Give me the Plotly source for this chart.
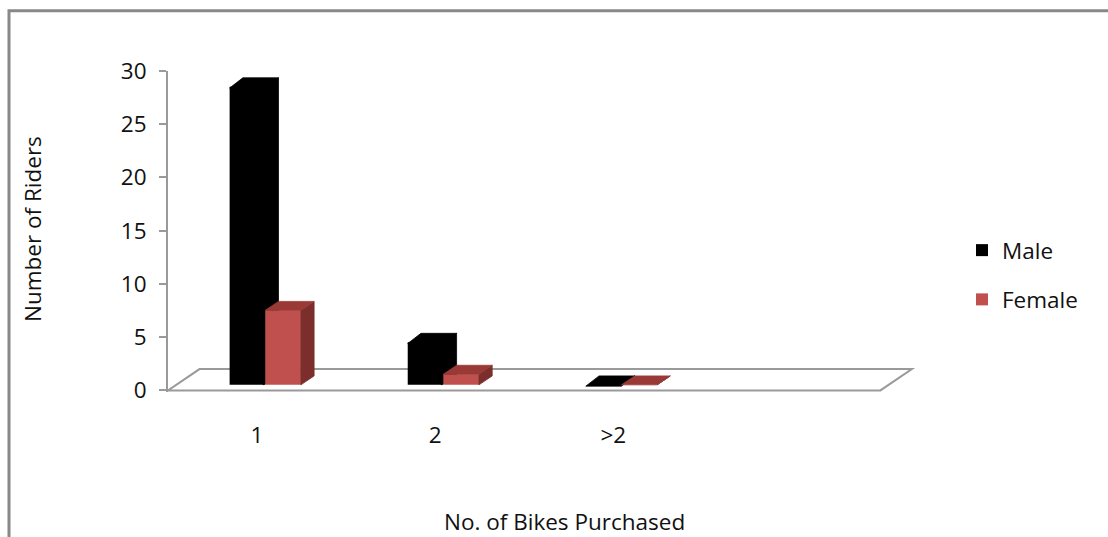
import plotly.graph_objects as go

# ---- data ----
categories = ["1", "2", ">2"]
male = [28, 4, 0]
female = [7, 1, 0]
y_ticks = [0, 5, 10, 15, 20, 25, 30]

# ---- page geometry (pixels) ----
W, H = 1108, 537
M_L, M_R, M_T, M_B = 168, 192, 71, 145
X_RANGE = [-0.5, 3.7]
Y_RANGE = [-0.15, 30]
PW = W - M_L - M_R
PH = H - M_T - M_B


def px_x(px):
    return (px - M_L) / PW


def px_y(py):
    return (H - M_B - py) / PH


# ---- pseudo-3D depth, in axis units ----
FLOOR_DX, FLOOR_DY = 0.177, 2.0          # full depth of the floor
F_FRONT, F_BACK = 0.26, 0.68             # bar front/back planes as fraction of depth
BAR_W = 0.2
SEAM = 0.012                             # hidden overlap under the front face (rear bars only)

fx0, fy0 = F_FRONT * FLOOR_DX, F_FRONT * FLOOR_DY
ddx, ddy = (F_BACK - F_FRONT) * FLOOR_DX, (F_BACK - F_FRONT) * FLOOR_DY

series = [
    dict(name="Male", vals=male, off=-BAR_W, front="#000000", top="#000000", side="#000000"),
    dict(name="Female", vals=female, off=0.0, front="#C0504D", top="#9A3A37", side="#7B2E2C"),
]

GRID = "#9a9a9a"
FONT = "Open Sans"
FS = 22.5
TXT = "#111111"

fig = go.Figure()
shapes = []

# floor
n_slots = 4
fl = [(-0.5, 0), (-0.5 + n_slots, 0), (-0.5 + n_slots + FLOOR_DX, FLOOR_DY), (-0.5 + FLOOR_DX, FLOOR_DY)]
shapes.append(dict(type="path", xref="x", yref="y", layer="below",
                   path="M" + " L".join(f"{a},{b}" for a, b in fl) + " Z",
                   fillcolor="white", line=dict(color=GRID, width=2)))

for k, s in enumerate(series):
    xs = list(range(len(categories)))
    fig.add_trace(go.Bar(
        x=xs, y=s["vals"], base=[fy0] * len(xs), offset=s["off"] + fx0, width=BAR_W,
        name=s["name"], legendgroup=s["name"],
        marker=dict(color=s["front"], line=dict(width=0)),
        hoverinfo="skip",
    ))
    layer = "below" if k == 0 else "above"
    ov = SEAM if layer == "below" else 0.0
    for i, v in enumerate(s["vals"]):
        x0 = i + s["off"] + fx0
        x1 = x0 + BAR_W
        yb = fy0
        yt = fy0 + v
        top = [(x0, yt - ov * 10), (x1, yt - ov * 10), (x1 + ddx, yt + ddy), (x0 + ddx, yt + ddy)]
        side = [(x1 - ov, yb), (x1 - ov, yt), (x1 + ddx, yt + ddy), (x1 + ddx, yb + ddy)]
        for poly, col in ((side, s["side"]), (top, s["top"])):
            shapes.append(dict(type="path", xref="x", yref="y", layer=layer,
                               path="M" + " L".join(f"{a},{b}" for a, b in poly) + " Z",
                               fillcolor=col, line=dict(color=col, width=0.8)))

# outer frame of the chart area
shapes.append(dict(type="rect", xref="paper", yref="paper",
                   x0=px_x(9), x1=px_x(1200), y0=px_y(700), y1=px_y(10.7),
                   line=dict(color="#888888", width=3), fillcolor="rgba(0,0,0,0)"))

annotations = [
    dict(text="Number of Riders", textangle=-90, x=px_x(32), y=px_y(229),
         xref="paper", yref="paper", xanchor="center", yanchor="middle", showarrow=False,
         font=dict(family=FONT, size=FS, color=TXT)),
    dict(text="No. of Bikes Purchased", x=px_x(564), y=px_y(521),
         xref="paper", yref="paper", xanchor="center", yanchor="middle", showarrow=False,
         font=dict(family=FONT, size=FS, color=TXT)),
]

fig.update_layout(
    width=W, height=H,
    margin=dict(l=M_L, r=M_R, t=M_T, b=M_B),
    paper_bgcolor="white", plot_bgcolor="rgba(0,0,0,0)",
    barmode="overlay",
    showlegend=True,
    legend=dict(x=px_x(962), y=px_y(229), xanchor="left", yanchor="top",
                font=dict(family=FONT, size=FS, color=TXT),
                tracegroupgap=17, traceorder="grouped",
                bgcolor="rgba(0,0,0,0)"),
    shapes=shapes,
    annotations=annotations,
    font=dict(family=FONT, size=FS, color=TXT),
)

fig.update_xaxes(range=X_RANGE, tickvals=list(range(len(categories))), ticktext=categories,
                 showgrid=False, zeroline=False, showline=False, ticks="",
                 ticklabelstandoff=27, tickfont=dict(family=FONT, size=FS, color=TXT))
fig.update_yaxes(range=Y_RANGE, tickvals=y_ticks, showgrid=False, zeroline=False,
                 showline=True, linecolor=GRID, linewidth=2,
                 ticks="outside", ticklen=7, tickwidth=2, tickcolor=GRID,
                 ticklabelstandoff=8, tickfont=dict(family=FONT, size=FS, color=TXT))

fig.write_html("out.html")
